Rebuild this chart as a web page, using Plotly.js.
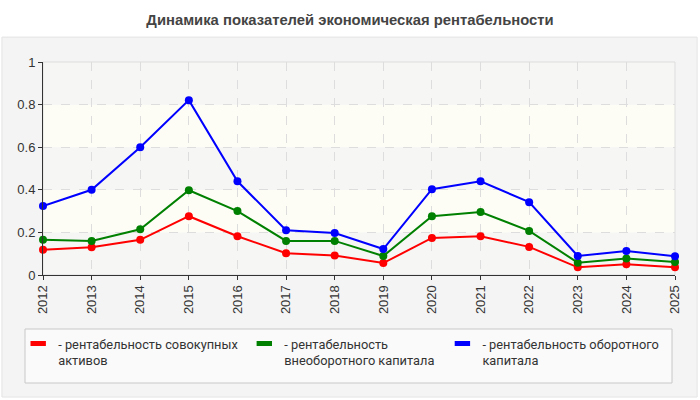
<!DOCTYPE html>
<html>
<head>
<meta charset="utf-8">
<script src="https://cdn.plot.ly/plotly-3.0.1.min.js"></script>
<style>
  html, body { margin: 0; padding: 0; background: #ffffff; }
  #chart { width: 700px; height: 400px; }
</style>
</head>
<body>
<div id="chart"></div>
<script>
// годы и показатели
let years = [2012, 2013, 2014, 2015, 2016, 2017, 2018, 2019, 2020, 2021, 2022, 2023, 2024, 2025];
let rent_assets = [0.119, 0.13, 0.165, 0.276, 0.182, 0.102, 0.092, 0.056, 0.174, 0.182, 0.132, 0.036, 0.05, 0.036];
let rent_fixed = [0.166, 0.16, 0.215, 0.398, 0.30, 0.16, 0.16, 0.089, 0.276, 0.296, 0.207, 0.058, 0.077, 0.061];
let rent_current = [0.324, 0.40, 0.60, 0.821, 0.44, 0.21, 0.197, 0.122, 0.403, 0.44, 0.342, 0.089, 0.113, 0.088];
let y_ticks = [0, 0.2, 0.4, 0.6, 0.8, 1];

let names = [
    "- рентабельность совокупных<br>активов",
    "- рентабельность<br>внеоборотного капитала",
    "- рентабельность оборотного<br>капитала"
];
let colors = ["#ff0000", "#008000", "#0000ff"];
let series = [rent_assets, rent_fixed, rent_current];
let legend_ids = ["legend", "legend2", "legend3"];
let legend_x = [0.026, 0.349, 0.632];

let data = [];
for (let k = 0; k < series.length; k++) {
    data.push({
        x: years, y: series[k], type: "scatter", mode: "lines+markers",
        line: { color: colors[k], width: 2 },
        marker: { color: colors[k], size: 8 },
        cliponaxis: false, showlegend: false, hoverinfo: "x+y"
    });
}
// записи легенды (прямоугольник цвета), у каждой своя легенда
for (let k = 0; k < series.length; k++) {
    data.push({
        x: [null], y: [null], type: "scatter", mode: "markers", name: names[k],
        legend: legend_ids[k],
        marker: { symbol: "line-ew", size: 11, line: { color: colors[k], width: 8 } }
    });
}

// фон: панель, рамка легенды, полосы
let shapes = [
    { type: "rect", xref: "paper", yref: "paper", x0: -0.065, x1: 1.035, y0: -0.573, y1: 1.117,
      fillcolor: "#f4f4f4", line: { color: "#e4e4e4", width: 1 }, layer: "below" },
    { type: "rect", xref: "paper", yref: "paper", x0: -0.0285, x1: 0.9953, y0: -0.507, y1: -0.2535,
      fillcolor: "#fafafa", line: { color: "#c8c8c8", width: 1 }, layer: "below" }
];
for (let i = 0; i < y_ticks.length - 1; i++) {
    shapes.push({
        type: "rect", xref: "paper", yref: "y", x0: 0, x1: 1, y0: y_ticks[i], y1: y_ticks[i + 1],
        fillcolor: i % 2 == 0 ? "#f6f6f5" : "#fdfdf6", line: { width: 0 }, layer: "below"
    });
}
shapes.push({ type: "rect", xref: "paper", yref: "paper", x0: 0, x1: 1, y0: 0, y1: 1,
    line: { color: "#dddddd", width: 1 }, layer: "below" });

let layout = {
    width: 700, height: 400,
    margin: { l: 43, r: 25, t: 62, b: 125 },
    paper_bgcolor: "#ffffff",
    plot_bgcolor: "rgba(0,0,0,0)",
    font: { family: "Liberation Sans, Arial, sans-serif", size: 13, color: "#333333" },
    title: {
        text: "<b>Динамика показателей экономическая рентабельности</b>",
        font: { family: "Liberation Sans, Arial, sans-serif", size: 14.8, color: "#444444" },
        x: 0.5, xanchor: "center", y: 0.95, yanchor: "middle"
    },
    xaxis: {
        range: [2012, 2025], tickvals: years, ticktext: years.map(String), tickangle: -90,
        showline: true, linecolor: "#333333", linewidth: 1,
        ticks: "outside", ticklen: 4, tickcolor: "#333333",
        showgrid: true, gridcolor: "#dddddd", griddash: "dash", zeroline: false,
        tickfont: { size: 13, color: "#333333" }
    },
    yaxis: {
        range: [0, 1], tickvals: y_ticks, ticktext: ["0", "0.2", "0.4", "0.6", "0.8", "1"],
        showline: true, linecolor: "#333333", linewidth: 1,
        ticks: "outside", ticklen: 4, tickcolor: "#333333",
        showgrid: true, gridcolor: "#dddddd", griddash: "dash", zeroline: false,
        tickfont: { size: 13, color: "#333333" }
    },
    showlegend: true,
    shapes: shapes
};
for (let k = 0; k < legend_ids.length; k++) {
    layout[legend_ids[k]] = {
        orientation: "h", xref: "container", yref: "container",
        x: legend_x[k], xanchor: "left", y: 0.178, yanchor: "top", valign: "top",
        bgcolor: "rgba(0,0,0,0)", borderwidth: 0,
        font: { family: "Roboto, sans-serif", size: 12.8, color: "#333333" },
        itemclick: false, itemdoubleclick: false
    };
}

Plotly.newPlot("chart", data, layout, { displayModeBar: false, staticPlot: true });
</script>
</body>
</html>
